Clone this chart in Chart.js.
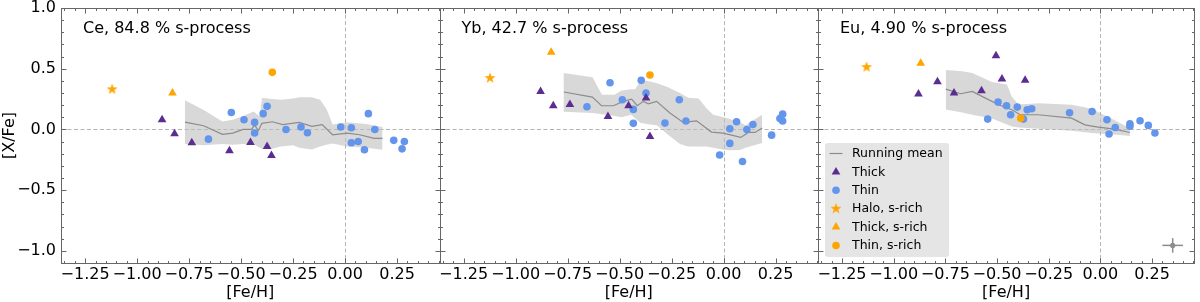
<!DOCTYPE html>
<html>
<head>
<meta charset="utf-8">
<script src="https://cdn.jsdelivr.net/npm/chart.js@4.4.1/dist/chart.umd.min.js"></script>
<style>
  html, body { margin: 0; padding: 0; background: #fff; }
  #wrap { position: relative; width: 1200px; height: 302px; }
  #wrap canvas { position: absolute; left: 0; top: 0; }
</style>
</head>
<body>
<div id="wrap">
  <canvas id="c0" width="1200" height="302"></canvas>
  <canvas id="c1" width="1200" height="302"></canvas>
  <canvas id="c2" width="1200" height="302"></canvas>
</div>
<script>
"use strict";

// ---- data ----
const xTickVals = [-1.25, -1.0, -0.75, -0.5, -0.25, 0, 0.25];
const yTickVals = [-1.0, -0.5, 0, 0.5, 1.0];

// Ce
const ceThick = [[-0.88, 0.08], [-0.82, -0.035], [-0.737, -0.11], [-0.556, -0.175], [-0.455, -0.107], [-0.375, -0.14], [-0.354, -0.214]];
const ceThin = [[-0.657, -0.08], [-0.547, 0.14], [-0.486, 0.08], [-0.435, 0.058], [-0.435, -0.03], [-0.394, 0.13], [-0.375, 0.19],
  [-0.284, 0.0], [-0.212, 0.02], [-0.181, -0.027], [-0.021, 0.02], [0.03, 0.014], [0.03, -0.11], [0.063, -0.10], [0.093, -0.167],
  [0.112, 0.13], [0.143, 0.0], [0.234, -0.09], [0.274, -0.16], [0.285, -0.10]];
const ceHaloRich = [[-1.12, 0.33]];
const ceThickRich = [[-0.83, 0.30]];
const ceThinRich = [[-0.35, 0.47]];
const ceMeanX = [-0.77, -0.68, -0.59, -0.54, -0.49, -0.45, -0.435, -0.417, -0.40, -0.35, -0.30, -0.22, -0.16, -0.11, -0.06, 0.01, 0.07, 0.14, 0.18];
const ceMean = [0.06, 0.03, -0.04, -0.03, 0.0, 0.0, 0.036, -0.01, 0.05, 0.063, 0.04, 0.058, 0.025, 0.04, -0.044, -0.03, -0.044, -0.074, -0.074];
const ceBandX = [-0.77, -0.68, -0.59, -0.54, -0.49, -0.44, -0.41, -0.40, -0.35, -0.31, -0.25, -0.22, -0.16, -0.12, -0.09, -0.06, 0.01, 0.10, 0.18];
const ceUpper = [0.24, 0.16, 0.066, 0.08, 0.11, 0.148, 0.107, 0.258, 0.25, 0.245, 0.255, 0.265, 0.265, 0.245, 0.17, 0.04, 0.06, 0.045, 0.02];
const ceLower = [-0.12, -0.13, -0.12, -0.126, -0.12, -0.12, -0.15, -0.16, -0.16, -0.14, -0.13, -0.15, -0.165, -0.14, -0.126, -0.115, -0.14, -0.15, -0.167];

// Yb
const ybThick = [[-0.88, 0.313], [-0.819, 0.195], [-0.739, 0.206], [-0.556, 0.107], [-0.457, 0.195], [-0.373, 0.258], [-0.354, -0.058]];
const ybThin = [[-0.657, 0.187], [-0.546, 0.384], [-0.487, 0.244], [-0.434, 0.165], [-0.434, 0.05], [-0.396, 0.404], [-0.373, 0.30],
  [-0.282, 0.052], [-0.213, 0.244], [-0.181, 0.069], [-0.019, -0.211], [0.03, 0.005], [0.03, -0.115], [0.0625, 0.063], [0.091, -0.264],
  [0.112, 0.0], [0.141, 0.041], [0.231, -0.047], [0.271, 0.09], [0.284, 0.126], [0.284, 0.069]];
const ybHaloRich = [[-1.123, 0.423]];
const ybThickRich = [[-0.829, 0.635]];
const ybThinRich = [[-0.354, 0.448]];
const ybMeanX = [-0.768, -0.631, -0.587, -0.53, -0.482, -0.442, -0.415, -0.386, -0.362, -0.322, -0.258, -0.194, -0.13, -0.058, -0.002, 0.083, 0.119, 0.151, 0.186];
const ybMean = [0.308, 0.266, 0.195, 0.195, 0.231, 0.25, 0.195, 0.231, 0.211, 0.231, 0.135, 0.058, 0.071, -0.022, -0.03, -0.066, -0.025, -0.025, 0.011];
const ybBandX = [-0.77, -0.63, -0.585, -0.525, -0.49, -0.445, -0.425, -0.40, -0.37, -0.32, -0.27, -0.21, -0.17, -0.12, -0.08, -0.05, 0.0, 0.03, 0.08, 0.105, 0.185];
const ybUpper = [0.465, 0.43, 0.285, 0.285, 0.32, 0.33, 0.33, 0.40, 0.40, 0.38, 0.35, 0.30, 0.26, 0.255, 0.17, 0.12, 0.10, 0.085, 0.06, 0.035, 0.12];
const ybLower = [0.145, 0.135, 0.125, 0.11, 0.10, 0.12, 0.09, 0.055, 0.045, 0.035, -0.04, -0.12, -0.14, -0.14, -0.14, -0.15, -0.167, -0.172, -0.17, -0.15, -0.112];

// Eu
const euThick = [[-0.88, 0.291], [-0.788, 0.393], [-0.708, 0.30], [-0.575, 0.318], [-0.505, 0.607], [-0.476, 0.415], [-0.364, 0.404]];
const euThin = [[-0.545, 0.085], [-0.495, 0.225], [-0.454, 0.195], [-0.434, 0.121], [-0.402, 0.184], [-0.372, 0.085], [-0.354, 0.162],
  [-0.332, 0.17], [-0.149, 0.137], [-0.04, 0.148], [0.032, 0.08], [0.042, -0.038], [0.072, 0.016], [0.143, 0.047], [0.143, 0.027],
  [0.192, 0.071], [0.232, 0.033], [0.264, -0.03]];
const euHaloRich = [[-1.131, 0.513]];
const euThickRich = [[-0.869, 0.546]];
const euThinRich = [[-0.385, 0.093]];
const euMeanX = [-0.748, -0.676, -0.62, -0.556, -0.492, -0.428, -0.388, -0.30, -0.139, -0.075, -0.011, 0.069, 0.143];
const euMean = [0.332, 0.294, 0.313, 0.258, 0.203, 0.162, 0.121, 0.121, 0.093, 0.038, 0.019, 0.003, -0.025];
const euBandX = [-0.748, -0.668, -0.62, -0.524, -0.452, -0.428, -0.396, -0.30, -0.139, -0.04, 0.005, 0.053, 0.143];
const euUpper = [0.49, 0.48, 0.465, 0.39, 0.37, 0.27, 0.205, 0.215, 0.203, 0.17, 0.13, 0.09, 0.01];
const euLower = [0.165, 0.14, 0.12, 0.09, 0.04, 0.025, 0.015, 0.005, -0.01, -0.03, -0.035, -0.04, -0.055];

// typical uncertainty (Eu panel)
const errPoint = [0.35, -0.955];
const errSize = [0.05, 0.06];

const panelNames = ['Ce, 84.8 % s-process', 'Yb, 42.7 % s-process', 'Eu, 4.90 % s-process'];

// ---- style ----
const FONT = '"DejaVu Sans", sans-serif';
const PURPLE = '#5c2d91';
const BLUE = '#6495ed';
const ORANGE = '#ffa500';
const MEAN_GRAY = '#8c8c8c';
const BAND_FILL = 'rgba(190,190,190,0.6)';
const FRAME = '#666';
const X_MIN = -1.366, X_MAX = 0.454;
const Y_MIN = -1.1, Y_MAX = 1.0;
const panelLeft = [61, 439.5, 818];
const panelRight = [439.5, 818, 1196.5];
const TRI_R = 5;
const DOT_R = 3.8;
const STAR_R = 5.8;

function makeStar(r) {
    let c = document.createElement('canvas');
    let s = Math.ceil(r * 2 + 2);
    c.width = s;
    c.height = s;
    let g = c.getContext('2d');
    g.fillStyle = ORANGE;
    g.beginPath();
    for (let i = 0; i < 10; i++) {
        let rad = i % 2 ? r * 0.4 : r;
        let a = -Math.PI / 2 + i * Math.PI / 5;
        g.lineTo(s / 2 + rad * Math.cos(a), s / 2 + rad * Math.sin(a));
    }
    g.closePath();
    g.fill();
    return c;
}
const STAR = makeStar(STAR_R);

const zip = (xs, ys) => xs.map((x, i) => ({ x: x, y: ys[i] }));
const pts = arr => arr.map(p => ({ x: p[0], y: p[1] }));
const fmt = (v, d) => v.toFixed(d).replace('-', '\u2212');

function pointSet(label, data, style, color, radius, order) {
    return {
        label: label,
        data: pts(data),
        pointStyle: style,
        pointRadius: radius,
        pointHoverRadius: radius,
        pointBackgroundColor: color,
        pointBorderWidth: 0,
        order: order
    };
}

function buildDatasets(p) {
    return [
        pointSet('Halo, s-rich', p.halo, STAR, ORANGE, STAR_R, 0),
        pointSet('Thick, s-rich', p.thickRich, 'triangle', ORANGE, TRI_R, 0),
        pointSet('Thin, s-rich', p.thinRich, 'circle', ORANGE, DOT_R, 0),
        pointSet('Thick', p.thick, 'triangle', PURPLE, TRI_R, 1),
        pointSet('Thin', p.thin, 'circle', BLUE, DOT_R, 2),
        {
            label: 'Running mean',
            data: zip(p.meanX, p.mean),
            showLine: true,
            borderColor: MEAN_GRAY,
            borderWidth: 1.2,
            pointRadius: 0,
            order: 3
        },
        {
            label: 'upper',
            data: zip(p.bandX, p.upper),
            showLine: true,
            borderColor: 'rgba(0,0,0,0)',
            borderWidth: 1,
            pointRadius: 0,
            backgroundColor: BAND_FILL,
            fill: '+1',
            order: 4
        },
        {
            label: 'lower',
            data: zip(p.bandX, p.lower),
            showLine: true,
            borderColor: 'rgba(0,0,0,0)',
            borderWidth: 1,
            pointRadius: 0,
            fill: false,
            order: 5
        }
    ];
}

const legendItems = [
    { label: 'Running mean', style: 'line', color: MEAN_GRAY },
    { label: 'Thick', style: 'triangle', color: PURPLE },
    { label: 'Thin', style: 'circle', color: BLUE },
    { label: 'Halo, s-rich', style: STAR, color: ORANGE },
    { label: 'Thick, s-rich', style: 'triangle', color: ORANGE },
    { label: 'Thin, s-rich', style: 'circle', color: ORANGE }
];

function hline(ctx, x1, x2, y) {
    ctx.beginPath();
    ctx.moveTo(x1, y);
    ctx.lineTo(x2, y);
    ctx.stroke();
}
function vline(ctx, x, y1, y2) {
    ctx.beginPath();
    ctx.moveTo(x, y1);
    ctx.lineTo(x, y2);
    ctx.stroke();
}

const panelPlugin = {
    id: 'panel',
    beforeDatasetsDraw(chart) {
        let ctx = chart.ctx, a = chart.chartArea, x = chart.scales.x, y = chart.scales.y;
        let y0 = Math.round(y.getPixelForValue(0)) + 0.5;
        let x0 = Math.round(x.getPixelForValue(0)) + 0.5;
        ctx.save();
        ctx.strokeStyle = '#b4b4b4';
        ctx.lineWidth = 1;
        ctx.setLineDash([4, 2.5]);
        hline(ctx, a.left, a.right, y0);
        vline(ctx, x0, a.top, a.bottom);
        ctx.restore();
    },
    afterDatasetsDraw(chart, args, opts) {
        let ctx = chart.ctx, a = chart.chartArea, x = chart.scales.x, y = chart.scales.y;
        let L = Math.round(a.left) + 0.5, R = Math.round(a.right) + 0.5;
        let T = Math.round(a.top) + 0.5, B = Math.round(a.bottom) + 0.5;
        ctx.save();
        // ticks, inward on all sides
        ctx.strokeStyle = FRAME;
        ctx.lineWidth = 1;
        for (let k = -11; k <= 10; k++) {
            let py = Math.round(y.getPixelForValue(k / 10)) + 0.5;
            let len = k % 5 === 0 ? 5 : 2.5;
            hline(ctx, L, L + len, py);
            hline(ctx, R - len, R, py);
        }
        for (let k = Math.ceil(X_MIN / 0.05); k <= Math.floor(X_MAX / 0.05); k++) {
            let px = Math.round(x.getPixelForValue(k * 0.05)) + 0.5;
            let len = k % 5 === 0 ? 5 : 2.5;
            vline(ctx, px, B - len, B);
            vline(ctx, px, T, T + len);
        }
        ctx.strokeRect(L, T, R - L, B - T);

        // panel name
        ctx.fillStyle = '#000';
        ctx.font = '16px ' + FONT;
        ctx.textBaseline = 'middle';
        ctx.textAlign = 'left';
        ctx.fillText(opts.name, a.left + 22, a.top + 21);

        if (opts.legend) {
            let bx = a.left + 7, bw = 124, bh = 114, by = a.bottom - 6 - bh;
            ctx.fillStyle = '#e5e5e5';
            ctx.beginPath();
            ctx.roundRect(bx, by, bw, bh, 3);
            ctx.fill();
            ctx.font = '12.5px ' + FONT;
            legendItems.forEach((it, i) => {
                let cy = by + 10.5 + i * 18.4;
                let mx = bx + 11;
                if (it.style === 'line') {
                    ctx.strokeStyle = it.color;
                    ctx.lineWidth = 1.2;
                    hline(ctx, mx - 6.5, mx + 6.5, cy);
                } else {
                    ctx.fillStyle = it.color;
                    let r = it.style === 'circle' ? DOT_R : (it.style === 'triangle' ? TRI_R : STAR_R);
                    Chart.helpers.drawPoint(ctx, { pointStyle: it.style, radius: r, borderWidth: 0, rotation: 0 }, mx, cy);
                }
                ctx.fillStyle = '#000';
                ctx.fillText(it.label, bx + 27, cy + 0.5);
            });
        }

        if (opts.err) {
            let cx = x.getPixelForValue(errPoint[0]), cy = y.getPixelForValue(errPoint[1]);
            ctx.strokeStyle = '#8c8c8c';
            ctx.lineWidth = 1.5;
            hline(ctx, x.getPixelForValue(errPoint[0] - errSize[0]), x.getPixelForValue(errPoint[0] + errSize[0]), cy);
            vline(ctx, cx, y.getPixelForValue(errPoint[1] + errSize[1]), y.getPixelForValue(errPoint[1] - errSize[1]));
            ctx.fillStyle = '#8c8c8c';
            ctx.beginPath();
            ctx.arc(cx, cy, 2.6, 0, Math.PI * 2);
            ctx.fill();
        }
        ctx.restore();
    }
};

const panels = [
    { thick: ceThick, thin: ceThin, halo: ceHaloRich, thickRich: ceThickRich, thinRich: ceThinRich,
      meanX: ceMeanX, mean: ceMean, bandX: ceBandX, upper: ceUpper, lower: ceLower },
    { thick: ybThick, thin: ybThin, halo: ybHaloRich, thickRich: ybThickRich, thinRich: ybThinRich,
      meanX: ybMeanX, mean: ybMean, bandX: ybBandX, upper: ybUpper, lower: ybLower },
    { thick: euThick, thin: euThin, halo: euHaloRich, thickRich: euThickRich, thinRich: euThinRich,
      meanX: euMeanX, mean: euMean, bandX: euBandX, upper: euUpper, lower: euLower }
];

panels.forEach((p, i) => {
    let ctx = document.getElementById('c' + i).getContext('2d');
    new Chart(ctx, {
        type: 'scatter',
        data: { datasets: buildDatasets(p) },
        plugins: [panelPlugin],
        options: {
            responsive: false,
            animation: false,
            devicePixelRatio: 1,
            layout: { padding: { left: 0, right: 1200 - panelRight[i], top: 8, bottom: 0 } },
            plugins: {
                legend: { display: false },
                tooltip: { enabled: false },
                panel: { name: panelNames[i], legend: i === 2, err: i === 2 }
            },
            scales: {
                x: {
                    type: 'linear',
                    min: X_MIN,
                    max: X_MAX,
                    grid: { display: false, drawTicks: false },
                    border: { display: false },
                    afterBuildTicks: s => { s.ticks = xTickVals.map(v => ({ value: v })); },
                    afterFit: s => { s.height = 39; s.paddingLeft = 0; s.paddingRight = 0; },
                    ticks: {
                        color: '#000',
                        font: { family: FONT, size: 16 },
                        padding: 2,
                        maxRotation: 0,
                        autoSkip: false,
                        callback: v => fmt(v, 2)
                    },
                    title: { display: true, text: '[Fe/H]', color: '#000', font: { family: FONT, size: 16 }, padding: 0 }
                },
                y: {
                    type: 'linear',
                    min: Y_MIN,
                    max: Y_MAX,
                    grid: { display: false, drawTicks: false },
                    border: { display: false },
                    afterBuildTicks: s => { s.ticks = yTickVals.map(v => ({ value: v })); },
                    afterFit: s => { s.width = panelLeft[i]; s.paddingTop = 0; s.paddingBottom = 0; },
                    ticks: {
                        display: i === 0,
                        color: '#000',
                        font: { family: FONT, size: 16 },
                        padding: 5,
                        callback: v => fmt(v, 1)
                    },
                    title: { display: i === 0, text: '[X/Fe]', color: '#000', font: { family: FONT, size: 16 }, padding: 0 }
                }
            }
        }
    });
});
</script>
</body>
</html>
